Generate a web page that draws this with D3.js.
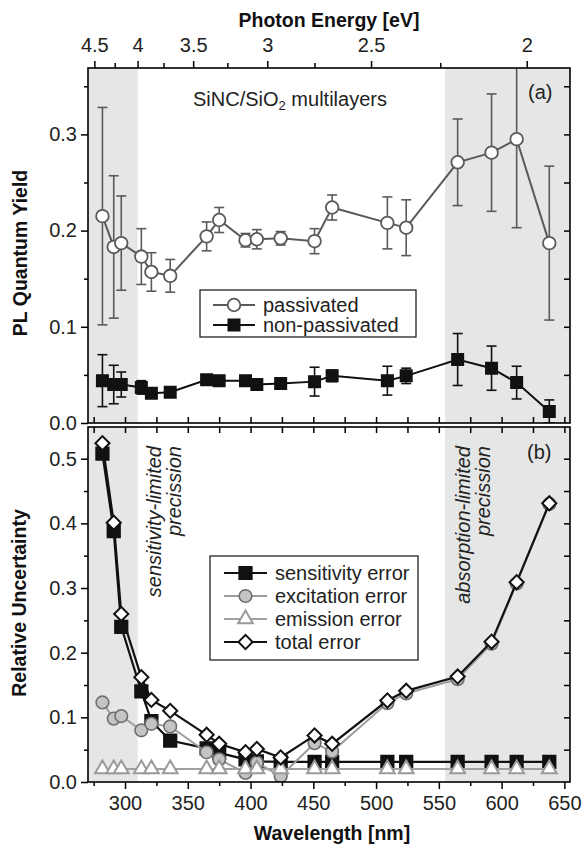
<!DOCTYPE html>
<html>
<head>
<meta charset="utf-8">
<script src="https://cdn.jsdelivr.net/npm/d3@7"></script>
<style>
  body { margin: 0; background: #fff; }
  svg { font-family: "Liberation Sans", Arial, sans-serif; }
  .axis line { stroke: #000; stroke-width: 1.5; }
  .axis text { font-size: 20px; fill: #222; font-family: "Liberation Sans", Arial, sans-serif; }
  .title { font-size: 19.5px; font-weight: bold; fill: #111; }
  .label { font-size: 20px; fill: #222; }
</style>
</head>
<body>
<svg id="chart" width="582" height="844"></svg>
<script>
// excitation wavelengths, same for both panels [nm]
const wavelength = [282, 291, 297, 313, 321, 336, 365, 375, 396, 405, 424, 451, 465, 509, 524, 565, 592, 612, 638];

// panel (a): PL quantum yield +- error
const passivated       = [0.215, 0.183, 0.187, 0.173, 0.157, 0.153, 0.194, 0.211, 0.190, 0.191, 0.192, 0.189, 0.224, 0.208, 0.203, 0.271, 0.281, 0.295, 0.187];
const passivatedErr    = [0.113, 0.074, 0.049, 0.029, 0.020, 0.017, 0.015, 0.013, 0.007, 0.010, 0.007, 0.013, 0.013, 0.027, 0.029, 0.045, 0.061, 0.092, 0.080];
const nonPassivated    = [0.044, 0.040, 0.040, 0.037, 0.031, 0.032, 0.045, 0.044, 0.044, 0.040, 0.041, 0.043, 0.049, 0.044, 0.049, 0.066, 0.057, 0.042, 0.012];
const nonPassivatedErr = [0.027, 0.020, 0.013, 0.007, 0.004, 0.004, 0.005, 0.004, 0.004, 0.004, 0.004, 0.015, 0.006, 0.015, 0.008, 0.027, 0.023, 0.017, 0.012];

// panel (b): relative uncertainty
const sensitivityErr = [0.508, 0.388, 0.240, 0.140, 0.094, 0.064, 0.052, 0.045, 0.035, 0.032, 0.031, 0.031, 0.031, 0.031, 0.031, 0.031, 0.031, 0.031, 0.031];
const excitationErr  = [0.123, 0.098, 0.102, 0.080, 0.090, 0.086, 0.046, 0.035, 0.014, 0.030, 0.009, 0.060, 0.047, 0.122, 0.137, 0.159, 0.214, 0.307, 0.430];
const emissionErr    = [0.020, 0.020, 0.020, 0.020, 0.020, 0.020, 0.020, 0.020, 0.020, 0.020, 0.020, 0.020, 0.020, 0.020, 0.020, 0.020, 0.020, 0.020, 0.020];
const totalErr       = [0.524, 0.401, 0.260, 0.162, 0.127, 0.110, 0.073, 0.059, 0.046, 0.051, 0.038, 0.072, 0.059, 0.126, 0.141, 0.163, 0.217, 0.309, 0.431];

// ticks
const energyTicks = [4.5, 4, 3.5, 3, 2.5, 2];
const energyMinor = [4.25, 3.75, 3.25, 2.75, 2.25];
const xTicks = [300, 350, 400, 450, 500, 550, 600, 650];
const xMinor = [275, 325, 375, 425, 475, 525, 575, 625];
const xInner = [275, 300, 325, 350, 375, 400, 425, 450, 475, 500, 525, 550, 575, 600, 625, 650];
const yTicksA = [0, 0.1, 0.2, 0.3];
const yMinorA = [0.05, 0.15, 0.25, 0.35];
const yInnerA = [0.05, 0.1, 0.15, 0.2, 0.25, 0.3, 0.35];
const yTicksB = [0, 0.1, 0.2, 0.3, 0.4, 0.5];
const yMinorB = [0.05, 0.15, 0.25, 0.35, 0.45];
const yInnerB = [0.05, 0.1, 0.15, 0.2, 0.25, 0.3, 0.35, 0.4, 0.45, 0.5];

// grey bands: below 310 nm and above 555 nm
const shadeLimits = [310, 555];

const svg = d3.select('#chart');
const left = 88, right = 570;

const x = d3.scaleLinear().domain([270.5, 654.5]).range([left, right]);
const yA = d3.scaleLinear().domain([0, 0.369]).range([423, 68]);
const yB = d3.scaleLinear().domain([0, 0.549]).range([782, 427]);

const rows = (vals, errs) => wavelength.map((w, i) => ({ w: w, v: vals[i], e: errs ? errs[i] : 0 }));

function addAxis(axis, tx, ty) {
    const g = svg.append('g')
        .attr('class', 'axis')
        .attr('transform', `translate(${tx},${ty})`)
        .call(axis);
    g.select('.domain').remove();
    return g;
}

function panelBase(y, id) {
    const top = y.range()[1], bottom = y.range()[0];
    svg.append('clipPath').attr('id', id)
        .append('rect').attr('x', left).attr('y', top).attr('width', right - left).attr('height', bottom - top);

    svg.append('rect').attr('x', left).attr('y', top)
        .attr('width', x(shadeLimits[0]) - left).attr('height', bottom - top)
        .attr('fill', '#e5e6e6');
    svg.append('rect').attr('x', x(shadeLimits[1])).attr('y', top)
        .attr('width', right - x(shadeLimits[1])).attr('height', bottom - top)
        .attr('fill', '#e5e6e6');

    return svg.append('g').attr('clip-path', `url(#${id})`);
}

function drawFrame(y) {
    const top = y.range()[1], bottom = y.range()[0];
    svg.append('rect').attr('x', left).attr('y', top)
        .attr('width', right - left).attr('height', bottom - top)
        .attr('fill', 'none').attr('stroke', '#000').attr('stroke-width', 1.6);
}

function drawSeries(g, y, data, opt) {
    g.append('path').datum(data)
        .attr('fill', 'none')
        .attr('stroke', opt.line)
        .attr('stroke-width', opt.lineWidth || 2)
        .attr('d', d3.line().x(d => x(d.w)).y(d => y(d.v)));

    if (opt.errorBars) {
        const eb = g.append('g').attr('stroke', opt.line).attr('stroke-width', 1.6);
        data.forEach(d => {
            eb.append('line').attr('x1', x(d.w)).attr('x2', x(d.w)).attr('y1', y(d.v - d.e)).attr('y2', y(d.v + d.e));
            eb.append('line').attr('x1', x(d.w) - 5).attr('x2', x(d.w) + 5).attr('y1', y(d.v - d.e)).attr('y2', y(d.v - d.e));
            eb.append('line').attr('x1', x(d.w) - 5).attr('x2', x(d.w) + 5).attr('y1', y(d.v + d.e)).attr('y2', y(d.v + d.e));
        });
    }

    g.append('g').selectAll('path')
        .data(data)
        .join('path')
            .attr('d', d3.symbol().type(opt.symbol).size(opt.size))
            .attr('transform', d => `translate(${x(d.w)},${y(d.v)}) rotate(${opt.rotate || 0})`)
            .attr('fill', opt.fill)
            .attr('stroke', opt.stroke)
            .attr('stroke-width', opt.strokeWidth || 1.6);
}

function legendItem(lx1, lx2, ly, label, opt) {
    svg.append('line').attr('x1', lx1).attr('x2', lx2).attr('y1', ly).attr('y2', ly)
        .attr('stroke', opt.line).attr('stroke-width', opt.lineWidth || 2);
    svg.append('path')
        .attr('d', d3.symbol().type(opt.symbol).size(opt.size))
        .attr('transform', `translate(${(lx1 + lx2) / 2},${ly}) rotate(${opt.rotate || 0})`)
        .attr('fill', opt.fill).attr('stroke', opt.stroke).attr('stroke-width', opt.strokeWidth || 1.6);
    svg.append('text').attr('class', 'label')
        .attr('x', lx2 + 8).attr('y', ly).attr('dy', '0.35em')
        .text(label);
}

// series styles
const stylePass = { line: '#5a5a5a', symbol: d3.symbolCircle, size: 125, fill: '#fff', stroke: '#5a5a5a', strokeWidth: 1.8, errorBars: true };
const styleNon = { line: '#111', symbol: d3.symbolSquare, size: 130, fill: '#111', stroke: '#111', errorBars: true };
const styleSens = { line: '#111', lineWidth: 2.2, symbol: d3.symbolSquare, size: 160, fill: '#111', stroke: '#111' };
const styleExc = { line: '#9c9c9c', symbol: d3.symbolCircle, size: 125, fill: '#c4c4c4', stroke: '#6e6e6e', strokeWidth: 1.6 };
const styleEm = { line: '#a0a0a0', symbol: d3.symbolTriangle, size: 95, fill: '#fff', stroke: '#9a9a9a', strokeWidth: 2 };
const styleTot = { line: '#111', lineWidth: 2.2, symbol: d3.symbolSquare, size: 100, rotate: 45, fill: '#fff', stroke: '#111', strokeWidth: 2 };

// ---------- panel (a)
const gA = panelBase(yA, 'clipA');
drawSeries(gA, yA, rows(passivated, passivatedErr), stylePass);
drawSeries(gA, yA, rows(nonPassivated, nonPassivatedErr), styleNon);
drawFrame(yA);

addAxis(d3.axisLeft(yA).tickValues(yTicksA).tickFormat(d3.format('.1f')).tickSize(7).tickPadding(4), left, 0);
addAxis(d3.axisLeft(yA).tickValues(yMinorA).tickFormat('').tickSize(4), left, 0);
addAxis(d3.axisLeft(yA).tickValues(yInnerA).tickFormat('').tickSize(6), right, 0);
addAxis(d3.axisTop(x).tickValues(xInner).tickFormat('').tickSize(6), 0, yA.range()[0]);

// top axis: photon energy, E = 1240 / lambda
addAxis(d3.axisTop(x).tickValues(energyTicks.map(e => 1240 / e))
    .tickFormat((d, i) => energyTicks[i]).tickSize(7).tickPadding(9), 0, yA.range()[1]);
addAxis(d3.axisTop(x).tickValues(energyMinor.map(e => 1240 / e)).tickFormat('').tickSize(5), 0, yA.range()[1]);

svg.append('text').attr('class', 'title').attr('x', 329).attr('y', 27)
    .attr('text-anchor', 'middle').text('Photon Energy [eV]');
svg.append('text').attr('class', 'title')
    .attr('transform', 'translate(27,253) rotate(-90)')
    .attr('text-anchor', 'middle').text('PL Quantum Yield');

const sinc = svg.append('text').attr('class', 'label').attr('x', 193).attr('y', 106);
sinc.append('tspan').text('SiNC/SiO');
sinc.append('tspan').attr('font-size', 13).attr('dy', 4).text('2');
sinc.append('tspan').attr('dy', -4).text(' multilayers');
svg.append('text').attr('class', 'label').attr('x', 528).attr('y', 99).text('(a)');

svg.append('rect').attr('x', 200).attr('y', 290).attr('width', 216).attr('height', 47)
    .attr('fill', '#fff').attr('stroke', '#222').attr('stroke-width', 1.3);
legendItem(213, 255, 305, 'passivated', stylePass);
legendItem(213, 255, 325, 'non-passivated', styleNon);

// ---------- panel (b)
const gB = panelBase(yB, 'clipB');
drawSeries(gB, yB, rows(sensitivityErr), styleSens);
drawSeries(gB, yB, rows(excitationErr), styleExc);
drawSeries(gB, yB, rows(emissionErr), styleEm);
drawSeries(gB, yB, rows(totalErr), styleTot);
drawFrame(yB);

addAxis(d3.axisLeft(yB).tickValues(yTicksB).tickFormat(d3.format('.1f')).tickSize(7).tickPadding(4), left, 0);
addAxis(d3.axisLeft(yB).tickValues(yMinorB).tickFormat('').tickSize(4), left, 0);
addAxis(d3.axisLeft(yB).tickValues(yInnerB).tickFormat('').tickSize(6), right, 0);
addAxis(d3.axisBottom(x).tickValues(xInner).tickFormat('').tickSize(6), 0, yB.range()[1]);
addAxis(d3.axisBottom(x).tickValues(xTicks).tickSize(7).tickPadding(7), 0, yB.range()[0]);
addAxis(d3.axisBottom(x).tickValues(xMinor).tickFormat('').tickSize(4), 0, yB.range()[0]);

svg.append('text').attr('class', 'title').attr('x', 332).attr('y', 840)
    .attr('text-anchor', 'middle').text('Wavelength [nm]');
svg.append('text').attr('class', 'title')
    .attr('transform', 'translate(26,603) rotate(-90)')
    .attr('text-anchor', 'middle').text('Relative Uncertainty');

svg.append('text').attr('class', 'label').attr('x', 527).attr('y', 459).text('(b)');

// rotated notes on the grey bands
[['sensitivity-limited', 161], ['precission', 181], ['absorption-limited', 470], ['precission', 490]].forEach(n => {
    svg.append('text').attr('class', 'label')
        .attr('transform', `translate(${n[1]},446) rotate(-90)`)
        .attr('text-anchor', 'end')
        .attr('font-style', 'italic')
        .text(n[0]);
});

svg.append('rect').attr('x', 210).attr('y', 556).attr('width', 208).attr('height', 104)
    .attr('fill', '#fff').attr('stroke', '#222').attr('stroke-width', 1.3);
legendItem(224, 267, 573, 'sensitivity error', styleSens);
legendItem(224, 267, 596, 'excitation error', styleExc);
legendItem(224, 267, 619, 'emission error', styleEm);
legendItem(224, 267, 642, 'total error', styleTot);
</script>
</body>
</html>
